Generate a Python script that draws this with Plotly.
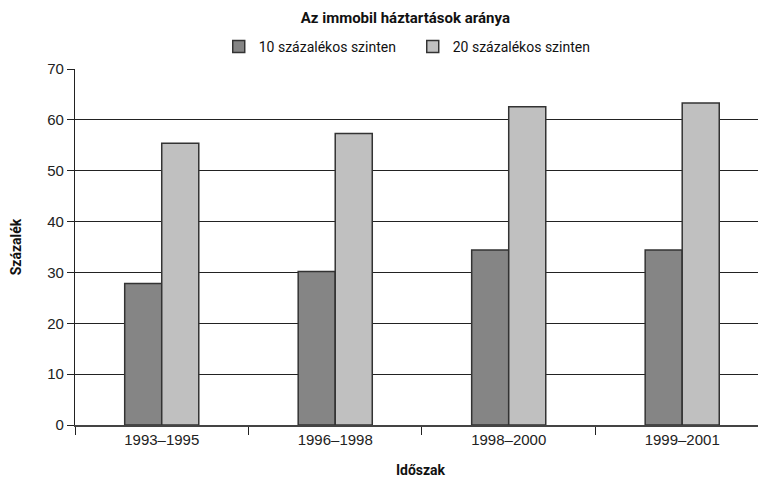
import plotly.graph_objects as go

categories = ["1993–1995", "1996–1998", "1998–2000", "1999–2001"]
series_10 = [27.8, 30.2, 34.4, 34.4]
series_20 = [55.4, 57.3, 62.6, 63.3]
series_names = ["10 százalékos szinten", "20 százalékos szinten"]
y_ticks = [0, 10, 20, 30, 40, 50, 60, 70]

COND = "Roboto, sans-serif"
REG = "Liberation Sans, Arial, sans-serif"

fig = go.Figure()
fig.add_trace(go.Bar(x=categories, y=series_10, name=series_names[0],
                     marker=dict(color="#858585", line=dict(color="#333333", width=1.5))))
fig.add_trace(go.Bar(x=categories, y=series_20, name=series_names[1],
                     marker=dict(color="#c0c0c0", line=dict(color="#333333", width=1.5))))

fig.update_layout(
    width=758, height=474,
    margin=dict(l=67, r=0, t=61, b=57, autoexpand=False),
    paper_bgcolor="white", plot_bgcolor="white",
    barmode="group", bargap=0.573, bargroupgap=0,
    title=dict(text="<b>Az immobil háztartások aránya</b>",
               font=dict(family=COND, size=15, color="#111"),
               x=0.478, xref="paper", xanchor="center",
               y=1 - 10 / 474, yref="container", yanchor="middle"),
    legend=dict(orientation="h", x=0.208, xanchor="left", y=1.062, yanchor="middle",
                font=dict(family=COND, size=14, color="#111"),
                entrywidth=149, itemwidth=30, bgcolor="rgba(0,0,0,0)"),
    xaxis=dict(type="category", range=[-0.5, 3.483], tickson="boundaries",
               automargin=False,
               ticks="outside", ticklen=8, tickcolor="#222", tickwidth=1.2,
               showline=True, linecolor="#444", linewidth=1.5,
               tickfont=dict(family=REG, size=15, color="#222"),
               title=dict(text="<b>Időszak</b>", font=dict(family=COND, size=14, color="#111"), standoff=18),
               showgrid=False),
    yaxis=dict(range=[0, 70], tickvals=y_ticks, ticks="outside", ticklen=7,
               automargin=False,
               tickcolor="#222", tickwidth=1.2,
               showline=True, linecolor="#222", linewidth=1.2,
               showgrid=True, gridcolor="#222", gridwidth=1.2,
               zeroline=False,
               tickfont=dict(family=REG, size=15, color="#222"),
               title=dict(text="<b>Százalék</b>", font=dict(family=COND, size=14, color="#111"), standoff=32)),
)

fig.write_html("out.html")
